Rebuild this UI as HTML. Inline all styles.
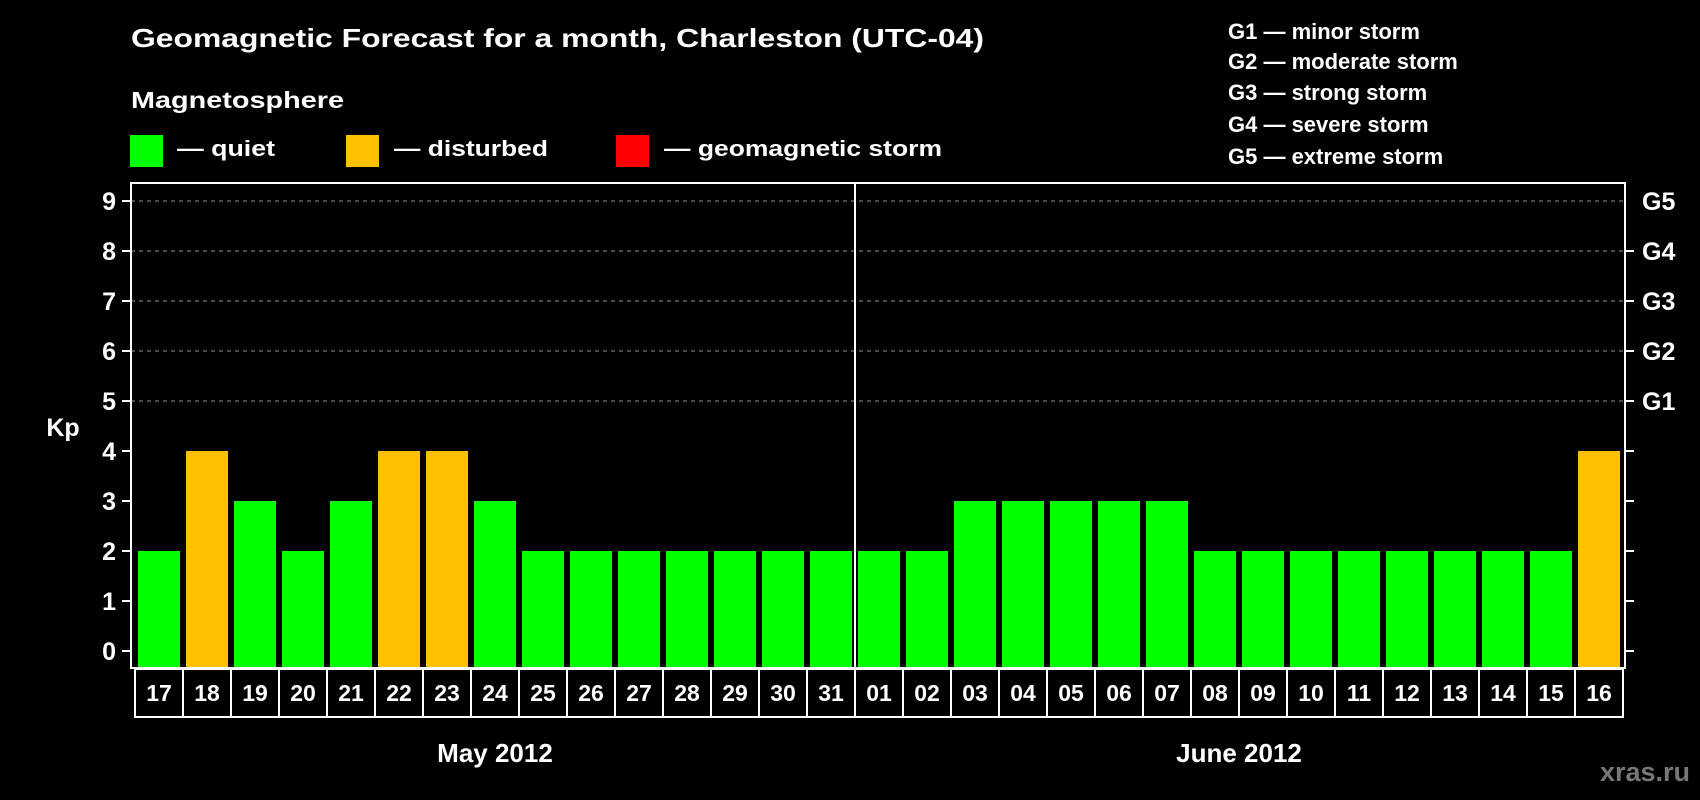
<!DOCTYPE html>
<html><head><meta charset="utf-8"><style>
html,body{margin:0;padding:0;background:#000;}
svg{display:block;font-family:"Liberation Sans",Arial,sans-serif;font-weight:bold;}
</style></head><body>
<svg id="chart" width="1700" height="800" viewBox="0 0 1700 800" xmlns="http://www.w3.org/2000/svg">
<rect x="0" y="0" width="1700" height="800" fill="#000"/>
<text x="131" y="47" fill="#fff" font-size="26" textLength="853" lengthAdjust="spacingAndGlyphs">Geomagnetic Forecast for a month, Charleston (UTC-04)</text>
<text x="131" y="108" fill="#fff" font-size="23" textLength="213" lengthAdjust="spacingAndGlyphs">Magnetosphere</text>
<g>
<rect x="130" y="135" width="33" height="32" fill="#00ff00"/>
<text x="177" y="156" fill="#fff" font-size="22" textLength="98" lengthAdjust="spacingAndGlyphs">— quiet</text></g>
<g>
<rect x="346" y="135" width="33" height="32" fill="#ffc000"/>
<text x="394" y="156" fill="#fff" font-size="22" textLength="154" lengthAdjust="spacingAndGlyphs">— disturbed</text></g>
<g>
<rect x="616" y="135" width="33" height="32" fill="#ff0000"/>
<text x="664" y="156" fill="#fff" font-size="22" textLength="278" lengthAdjust="spacingAndGlyphs">— geomagnetic storm</text></g>
<g fill="#fff" font-size="22">
<text x="1228" y="39">G1 — minor storm</text>
<text x="1228" y="69">G2 — moderate storm</text>
<text x="1228" y="100">G3 — strong storm</text>
<text x="1228" y="132">G4 — severe storm</text>
<text x="1228" y="164">G5 — extreme storm</text>
</g>
<text x="63" y="436" fill="#fff" font-size="25" text-anchor="middle">Kp</text>
<g id="grid"></g>
<g id="bars"></g>
<g id="axes"></g>
<text x="1690" y="781" fill="#777" font-size="27" text-anchor="end">xras.ru</text>
</svg>
<script>
const days = ["17","18","19","20","21","22","23","24","25","26","27","28","29","30","31","01","02","03","04","05","06","07","08","09","10","11","12","13","14","15","16"];
const kpValues = [2,4,3,2,3,4,4,3,2,2,2,2,2,2,2,2,2,3,3,3,3,3,2,2,2,2,2,2,2,2,4];
const yTicks = [0,1,2,3,4,5,6,7,8,9];
const gLabels = ["G1","G2","G3","G4","G5"];
const gLevels = [5,6,7,8,9];
const months = ["May 2012","June 2012"];
const monthStart = [0,15];

const NS="http://www.w3.org/2000/svg";
const plotL=131, plotR=1625, plotT=183, plotB=668, slot=48, firstX=138, barW=42, boxL=135;
function y(v){return 651-50*v;}
function x(i){return firstX+i*slot;}
function mk(tag,attrs,parent){const e=document.createElementNS(NS,tag);for(const k in attrs)e.setAttribute(k,attrs[k]);parent.appendChild(e);return e;}
const grid=document.getElementById('grid'),bars=document.getElementById('bars'),axes=document.getElementById('axes');

gLevels.forEach((v,i)=>{
  const l=mk('line',{x1:plotL,x2:plotR,y1:y(v),y2:y(v),stroke:'#999','stroke-width':1,'stroke-dasharray':'4 4'},grid);
  
  
  const t=mk('text',{x:1642,y:y(v)+9,fill:'#fff','font-size':25},axes);
  t.textContent=gLabels[i];
  
  
});

kpValues.forEach((v,i)=>{
  const col=v>=5?'#ff0000':(v>=4?'#ffc000':'#00ff00');
  const r=mk('rect',{x:x(i),y:y(v),width:barW,height:plotB-y(v),fill:col},bars);
  
  
});

const frame=mk('rect',{x:plotL,y:plotT,width:plotR-plotL,height:plotB-plotT,fill:'none',stroke:'#fff','stroke-width':2},axes);



yTicks.forEach(v=>{
  mk('line',{x1:122,x2:plotL,y1:y(v),y2:y(v),stroke:'#fff','stroke-width':2},axes);
  if(v<9) mk('line',{x1:plotR,x2:1634,y1:y(v),y2:y(v),stroke:'#fff','stroke-width':2},axes);
  const t=mk('text',{x:116,y:y(v)+9,fill:'#fff','font-size':25,'text-anchor':'end'},axes);
  t.textContent=v;
  
  
});

const sepX=boxL+monthStart[1]*slot;
const sep=mk('line',{x1:sepX,x2:sepX,y1:plotT,y2:plotB,stroke:'#fff','stroke-width':2},axes);



mk('rect',{x:boxL,y:669,width:days.length*slot,height:48,fill:'none',stroke:'#fff','stroke-width':2},axes);
days.forEach((d,i)=>{
  if(i>0) mk('line',{x1:boxL+i*slot,x2:boxL+i*slot,y1:669,y2:717,stroke:'#fff','stroke-width':2},axes);
  const t=mk('text',{x:boxL+i*slot+slot/2,y:701,fill:'#fff','font-size':23,'text-anchor':'middle'},axes);
  t.textContent=d;
  
  
});

months.forEach((m,k)=>{
  const s=monthStart[k], e=(k+1<monthStart.length?monthStart[k+1]:days.length);
  const cx=boxL+(s+e)/2*slot;
  const t=mk('text',{x:cx,y:762,fill:'#fff','font-size':26,'text-anchor':'middle'},axes);
  t.textContent=m;
  
  
});
</script>
</body></html>
